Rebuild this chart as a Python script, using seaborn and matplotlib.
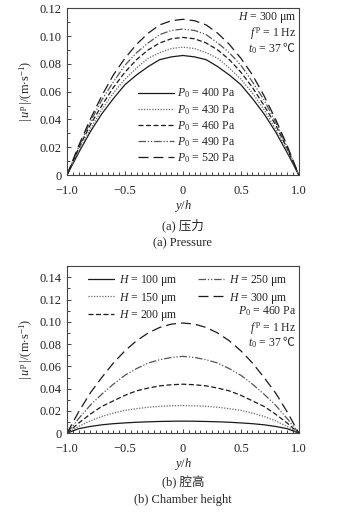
import numpy as np
import pandas as pd
import matplotlib
matplotlib.use("Agg")
import matplotlib.pyplot as plt
from matplotlib.ticker import MultipleLocator, FuncFormatter
import seaborn as sns

# ---------------- data ----------------
yh = [-1.0, -0.9, -0.8, -0.7, -0.6, -0.5, -0.4, -0.3, -0.2, -0.1, 0.0,
      0.1, 0.2, 0.3, 0.4, 0.5, 0.6, 0.7, 0.8, 0.9, 1.0]

# (a) pressure amplitude
p_labels = ["400", "430", "460", "490", "520"]
u_p400 = [0, 0.016, 0.031, 0.044, 0.055, 0.065, 0.072, 0.078, 0.083, 0.085, 0.086,
          0.085, 0.083, 0.078, 0.072, 0.065, 0.055, 0.044, 0.031, 0.016, 0]
u_p430 = [0, 0.017, 0.033, 0.047, 0.059, 0.069, 0.077, 0.084, 0.088, 0.091, 0.092,
          0.091, 0.088, 0.084, 0.077, 0.069, 0.059, 0.047, 0.033, 0.017, 0]
u_p460 = [0, 0.019, 0.036, 0.050, 0.063, 0.074, 0.083, 0.090, 0.095, 0.098, 0.099,
          0.098, 0.095, 0.090, 0.083, 0.074, 0.063, 0.050, 0.036, 0.019, 0]
u_p490 = [0, 0.020, 0.038, 0.054, 0.067, 0.079, 0.088, 0.095, 0.101, 0.104, 0.105,
          0.104, 0.101, 0.095, 0.088, 0.079, 0.067, 0.054, 0.038, 0.020, 0]
u_p520 = [0, 0.021, 0.040, 0.057, 0.072, 0.084, 0.094, 0.102, 0.108, 0.111, 0.112,
          0.111, 0.108, 0.102, 0.094, 0.084, 0.072, 0.057, 0.040, 0.021, 0]

# (b) chamber height
h_labels = ["100", "150", "200", "250", "300"]
u_h100 = [0, 0.004, 0.006, 0.0075, 0.0085, 0.0092, 0.0098, 0.0102, 0.0105, 0.0107, 0.0108,
          0.0107, 0.0105, 0.0102, 0.0098, 0.0092, 0.0085, 0.0075, 0.006, 0.004, 0]
u_h150 = [0, 0.006, 0.011, 0.015, 0.018, 0.0205, 0.022, 0.0233, 0.0241, 0.0246, 0.0248,
          0.0246, 0.0241, 0.0233, 0.022, 0.0205, 0.018, 0.015, 0.011, 0.006, 0]
u_h200 = [0, 0.009, 0.017, 0.024, 0.029, 0.034, 0.038, 0.0405, 0.0425, 0.0435, 0.044,
          0.0435, 0.0425, 0.0405, 0.038, 0.034, 0.029, 0.024, 0.017, 0.009, 0]
u_h250 = [0, 0.013, 0.025, 0.035, 0.044, 0.052, 0.058, 0.063, 0.066, 0.068, 0.069,
          0.068, 0.066, 0.063, 0.058, 0.052, 0.044, 0.035, 0.025, 0.013, 0]
u_h300 = [0, 0.019, 0.036, 0.050, 0.063, 0.074, 0.083, 0.090, 0.095, 0.098, 0.099,
          0.098, 0.095, 0.090, 0.083, 0.074, 0.063, 0.050, 0.036, 0.019, 0]

x_ticks = [-1.0, -0.5, 0.0, 0.5, 1.0]
x_ticklabels = ["\u22121.0", "\u22120.5", "0", "0.5", "1.0"]

# ---------------- style ----------------
sns.set_theme(style="ticks")
plt.rcParams["font.family"] = ["Liberation Serif", "Noto Sans CJK SC"]
plt.rcParams["mathtext.fontset"] = "custom"
plt.rcParams["mathtext.rm"] = "Liberation Serif"
plt.rcParams["mathtext.it"] = "Liberation Serif:italic"
plt.rcParams["mathtext.bf"] = "Liberation Serif:bold"
plt.rcParams["mathtext.sf"] = "Noto Sans CJK SC"
plt.rcParams["axes.unicode_minus"] = True

FS = 9
FSL = 8.5
styles = [
    dict(color="#1a1a1a", linestyle="-"),
    dict(color="#666666", linestyle=(0, (1, 1.2))),
    dict(color="#1a1a1a", linestyle=(0, (4, 2))),
    dict(color="#555555", linestyle=(0, (6, 1.5, 1, 1.5, 1, 1.5))),
    dict(color="#1a1a1a", linestyle=(0, (8, 4))),
]

fig = plt.figure(figsize=(3.4, 5.12), dpi=100)
ax1 = fig.add_axes([0.197, 0.658, 0.682, 0.326])
ax2 = fig.add_axes([0.197, 0.154, 0.682, 0.326])

CEL = "$\\mathsf{\u2103}$"


def style_axes(ax, ymax, ymajor):
    ax.set_xlim(-1.0, 1.0)
    ax.set_ylim(0, ymax)
    ax.set_xticks(x_ticks)
    ax.set_xticklabels(x_ticklabels)
    ax.xaxis.set_minor_locator(MultipleLocator(0.05))
    ax.yaxis.set_major_locator(MultipleLocator(ymajor))
    ax.yaxis.set_minor_locator(MultipleLocator(ymajor / 2))
    ax.yaxis.set_major_formatter(FuncFormatter(lambda v, p: "0" if abs(v) < 1e-9 else f"{v:.2f}"))
    ax.tick_params(which="both", direction="in", top=False, right=False,
                   labelsize=FS, colors="#222222", width=0.6)
    ax.tick_params(which="major", length=3)
    ax.tick_params(axis="x", which="major", pad=7)
    ax.tick_params(axis="y", which="major", pad=4)
    ax.tick_params(which="minor", length=2)
    for s in ax.spines.values():
        s.set_linewidth(0.8)
        s.set_color("#444444")
        s.set_visible(True)
    ax.set_xlabel("$y$/$h$", fontsize=FS, labelpad=1)
    ax.set_ylabel(r"$|\,u^{\,\mathrm{p}}\,|$/(m$\cdot$s$^{-1}$)", fontsize=FS, labelpad=3)


# ---- (a) ----
series_a = [u_p400, u_p430, u_p460, u_p490, u_p520]
for lab, vals, st in zip(p_labels, series_a, styles):
    df = pd.DataFrame({"yh": yh, "u": vals})
    sns.lineplot(data=df, x="yh", y="u", ax=ax1, linewidth=0.9,
                 label=f"$P_0$ = {lab} Pa", **st)
style_axes(ax1, 0.12, 0.02)
ax1.legend(loc="upper left", bbox_to_anchor=(0.305, 0.53), frameon=False,
           fontsize=FSL, handlelength=3.1, handletextpad=0.2,
           labelspacing=0.2, borderpad=0, borderaxespad=0)
ax1.text(0.99, 0.99, "$H$ = 300 \u03bcm", transform=ax1.transAxes, ha="right", va="top", fontsize=FSL)
ax1.text(0.99, 0.9, "$f^{\\,\\mathrm{p}}$ = 1 Hz", transform=ax1.transAxes, ha="right", va="top", fontsize=FSL)
ax1.text(0.99, 0.81, "$t_0$ = 37 " + CEL, transform=ax1.transAxes, ha="right", va="top", fontsize=FSL)

# ---- (b) ----
series_b = [u_h100, u_h150, u_h200, u_h250, u_h300]
for lab, vals, st in zip(h_labels, series_b, styles):
    df = pd.DataFrame({"yh": yh, "u": vals})
    sns.lineplot(data=df, x="yh", y="u", ax=ax2, linewidth=0.9,
                 label=f"$H$ = {lab} \u03bcm", **st)
style_axes(ax2, 0.15, 0.02)
ax2.legend(loc="upper left", bbox_to_anchor=(0.09, 0.96), frameon=False, ncol=2,
           fontsize=FSL, handlelength=2.2, handletextpad=0.45,
           labelspacing=0.22, borderpad=0, borderaxespad=0, columnspacing=1.7)
ax2.text(0.99, 0.77, "$P_0$ = 460 Pa", transform=ax2.transAxes, ha="right", va="top", fontsize=FSL)
ax2.text(0.99, 0.68, "$f^{\\,\\mathrm{p}}$ = 1 Hz", transform=ax2.transAxes, ha="right", va="top", fontsize=FSL)
ax2.text(0.99, 0.59, "$t_0$ = 37 " + CEL, transform=ax2.transAxes, ha="right", va="top", fontsize=FSL)

# ---- captions ----
fig.text(0.538, 1 - 225 / 512, "(a) 压力", ha="center", va="center", fontsize=FS)
fig.text(0.538, 1 - 243 / 512, "(a) Pressure", ha="center", va="center", fontsize=FS)
fig.text(0.538, 1 - 483 / 512, "(b) 腔高", ha="center", va="center", fontsize=FS)
fig.text(0.538, 1 - 500 / 512, "(b) Chamber height", ha="center", va="center", fontsize=FS)

fig.savefig("out.png", dpi=100, facecolor="white")
